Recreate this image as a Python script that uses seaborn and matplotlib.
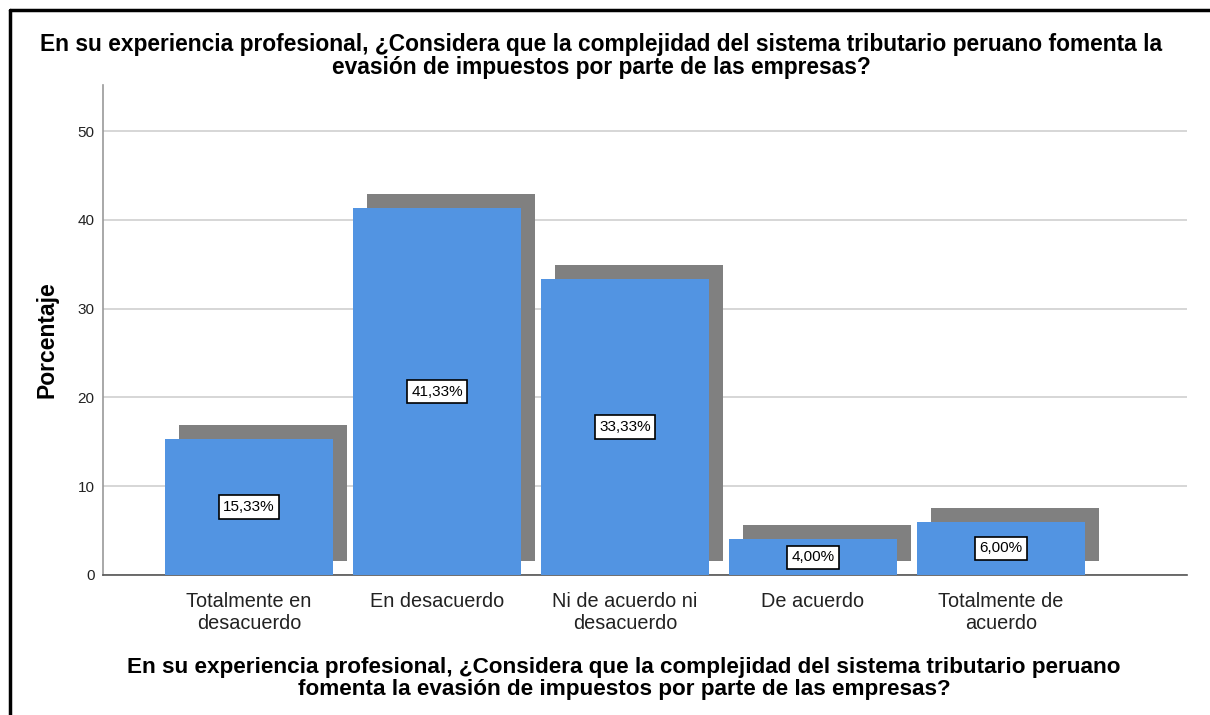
import matplotlib
matplotlib.use("Agg")
import matplotlib.pyplot as plt
import matplotlib.transforms as mtransforms
from matplotlib.lines import Line2D
import seaborn as sns
import pandas as pd

categories = ["Totalmente en\ndesacuerdo", "En desacuerdo", "Ni de acuerdo ni\ndesacuerdo",
              "De acuerdo", "Totalmente de\nacuerdo"]
percentages = [15.33, 41.33, 33.33, 4.00, 6.00]
y_ticks = [0, 10, 20, 30, 40, 50]
title_text = ("En su experiencia profesional, ¿Considera que la complejidad del sistema tributario peruano fomenta la\n"
              "evasión de impuestos por parte de las empresas?")
xlabel_text = ("En su experiencia profesional, ¿Considera que la complejidad del sistema tributario peruano\n"
               "fomenta la evasión de impuestos por parte de las empresas?")
ylabel_text = "Porcentaje"

df = pd.DataFrame({"cat": categories, "pct": percentages})

sns.set_style("white")
plt.rcParams["font.family"] = ["Liberation Sans", "DejaVu Sans"]

DPI = 100
fig = plt.figure(figsize=(12.10, 7.15), dpi=DPI)
ax = fig.add_axes([103/1210, 1 - 575/715, (1187-103)/1210, (575-85)/715])

bar_w = 0.894
# shadow bars
sns.barplot(data=df, x="cat", y="pct", order=categories, color="#808080",
            width=bar_w, saturation=1, ax=ax, zorder=2)
shadow_patches = list(ax.patches)
off = mtransforms.ScaledTranslation(14/DPI, 14/DPI, fig.dpi_scale_trans)
for p in shadow_patches:
    p.set_transform(ax.transData + off)
    p.set_edgecolor("none")
# main bars
sns.barplot(data=df, x="cat", y="pct", order=categories, color="#5294E2",
            width=bar_w, saturation=1, ax=ax, zorder=3)
for p in ax.patches[len(shadow_patches):]:
    p.set_edgecolor("none")

for i, v in enumerate(percentages):
    ax.text(i, v/2, f"{v:.2f}%".replace(".", ","), ha="center", va="center",
            fontsize=11, color="black", zorder=5,
            bbox=dict(boxstyle="square,pad=0.3", fc="white", ec="black", lw=1.2))

ax.set_xlim(-0.777, 4.99)
ax.set_ylim(0, 55.2)
ax.set_yticks(y_ticks)
ax.yaxis.grid(True, color="#d0d0d0", lw=1.2, zorder=0)
ax.set_axisbelow(True)
ax.tick_params(axis="y", length=0, pad=6, labelsize=11, labelcolor="#222222")
ax.tick_params(axis="x", length=0, pad=12, labelsize=14.3, labelcolor="#222222")
plt.setp(ax.get_xticklabels(), linespacing=1.2)

for s in ["top", "right"]:
    ax.spines[s].set_visible(False)
ax.spines["left"].set_color("#999999")
ax.spines["left"].set_linewidth(1.2)
ax.spines["bottom"].set_color("#555555")
ax.spines["bottom"].set_linewidth(1.2)

ax.set_ylabel(ylabel_text, fontsize=16.5, fontweight="bold", color="black")
ax.yaxis.set_label_coords(-45/1084, 0.48)
ax.set_xlabel(xlabel_text, fontsize=16.2, fontweight="bold", linespacing=1.05, color="black")
ax.xaxis.set_label_coords((624-103)/1084, -(678.5-575)/490)
ax.xaxis.label.set_va("center")
fig.text(601/1210, 1 - 56/715, title_text, ha="center", va="center", fontsize=16.4,
         fontweight="bold", linespacing=0.98, color="black")

fig.add_artist(Line2D([10/1210, 10/1210], [0, 1 - 10/715], color="black", lw=2.5))
fig.add_artist(Line2D([10/1210, 1], [1 - 10/715, 1 - 10/715], color="black", lw=2.5))

fig.savefig("out.png", dpi=DPI)
